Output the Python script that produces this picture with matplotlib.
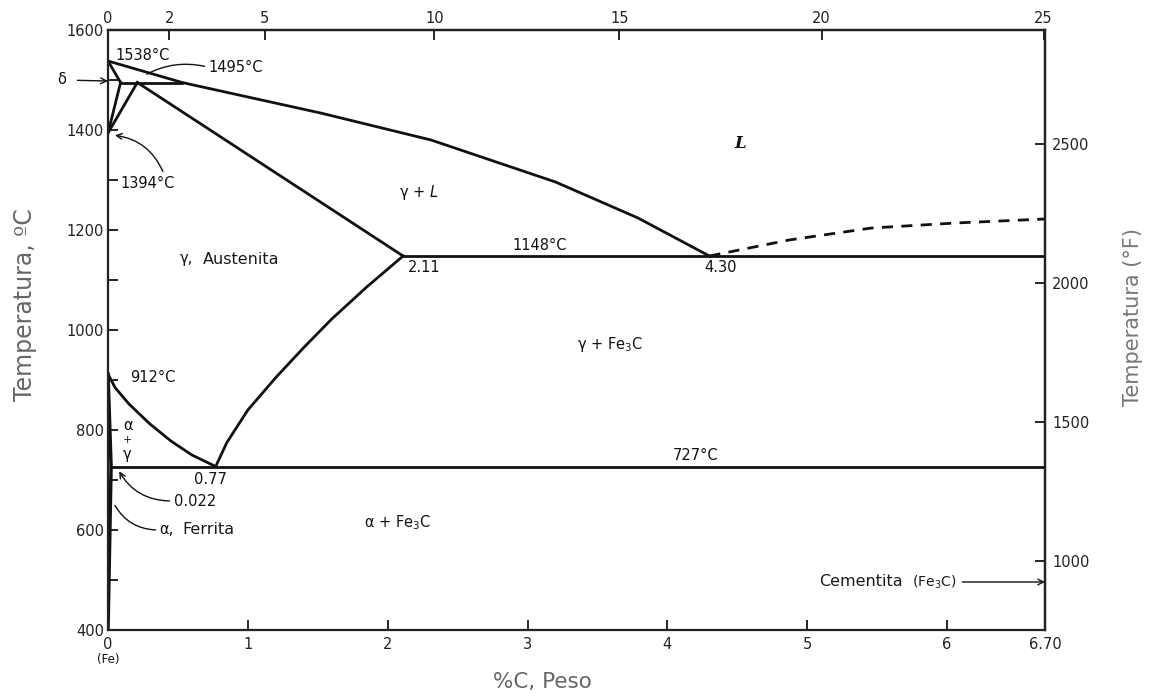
import numpy as np
import matplotlib
matplotlib.use("Agg")
import matplotlib.pyplot as plt

# Fe-Fe3C phase boundaries (wt% C, degrees C)
liq_w = [0, 0.53, 1.0, 1.52, 2.31, 3.20, 3.79, 4.30]
liq_T = [1538, 1495, 1466, 1434, 1380, 1296, 1224, 1148]

delta_sol_w = [0, 0.09]
delta_sol_T = [1538, 1495]

peri_w = [0.09, 0.53]
peri_T = [1495, 1495]

delta_solvus_w = [0.09, 0]
delta_solvus_T = [1495, 1394]

gam_delta_w = [0.21, 0]
gam_delta_T = [1495, 1394]

gam_sol_w = [0.21, 2.11]
gam_sol_T = [1495, 1148]

eut_w = [2.11, 6.70]
eut_T = [1148, 1148]

acm_w = [0.77, 0.85, 1.0, 1.2, 1.4, 1.6, 1.85, 2.11]
acm_T = [727, 775, 840, 905, 965, 1022, 1086, 1148]

a3_w = [0, 0.05, 0.15, 0.3, 0.45, 0.6, 0.77]
a3_T = [912, 885, 852, 812, 778, 750, 727]

alpha_w = [0, 0.022, 0]
alpha_T = [912, 727, 400]

eutd_w = [0.022, 6.70]
eutd_T = [727, 727]

graph_w = [4.30, 4.87, 5.46, 6.06, 6.70]
graph_T = [1148, 1180, 1204, 1214, 1222]

# axis ticks
wt_ticks = [0, 1, 2, 3, 4, 5, 6, 6.70]
wt_labels = ["0", "1", "2", "3", "4", "5", "6", "6.70"]
at_ticks = [0, 2, 5, 10, 15, 20, 25]
C_major = [400, 600, 800, 1000, 1200, 1400, 1600]
C_minor = [500, 700, 900, 1100, 1300, 1500]
F_ticks = [1000, 1500, 2000, 2500]

plt.rcParams['font.family'] = ['DejaVu Sans']

fig = plt.figure(figsize=(11.56, 7), dpi=100)
ax = fig.add_axes([108 / 1156, 70 / 700, 937 / 1156, 600 / 700])

lw = 2.0
k = '#111111'
ax.plot(liq_w, liq_T, color=k, lw=lw)
ax.plot(delta_sol_w, delta_sol_T, color=k, lw=lw)
ax.plot(peri_w, peri_T, color=k, lw=lw)
ax.plot(delta_solvus_w, delta_solvus_T, color=k, lw=lw)
ax.plot(gam_delta_w, gam_delta_T, color=k, lw=lw)
ax.plot(gam_sol_w, gam_sol_T, color=k, lw=lw)
ax.plot(eut_w, eut_T, color=k, lw=lw)
ax.plot(acm_w, acm_T, color=k, lw=lw)
ax.plot(a3_w, a3_T, color=k, lw=lw)
ax.plot(alpha_w, alpha_T, color=k, lw=lw + 0.5)
ax.plot(eutd_w, eutd_T, color=k, lw=lw)
ax.plot(graph_w, graph_T, color=k, lw=lw, ls=(0, (4, 3)))

ax.set_xlim(0, 6.70)
ax.set_ylim(400, 1600)
for s in ax.spines.values():
    s.set_linewidth(1.6)
    s.set_color('#222222')

tick_kw = dict(direction='in', labelsize=10.5, labelcolor='#222222', width=1.2, length=7)
ax.set_xticks(wt_ticks)
ax.set_xticklabels(wt_labels)
ax.set_yticks(C_major)
ax.set_yticks(C_minor, minor=True)
ax.tick_params(axis='both', which='both', **tick_kw)
ax.tick_params(axis='x', pad=5)
ax.tick_params(axis='y', pad=3)


def wt2at(w):
    w = np.asarray(w, dtype=float)
    c = w / 12.011
    fe = (100 - w) / 55.845
    return 100 * c / (c + fe)


def at2wt(a):
    a = np.asarray(a, dtype=float)
    c = a * 12.011
    fe = (100 - a) * 55.845
    return 100 * c / (c + fe)


def c2f(t):
    return np.asarray(t, dtype=float) * 9 / 5 + 32


def f2c(t):
    return (np.asarray(t, dtype=float) - 32) * 5 / 9


top = ax.secondary_xaxis('top', functions=(wt2at, at2wt))
top.set_xticks(at_ticks)
top.tick_params(**tick_kw, pad=3)
top.spines['top'].set_linewidth(1.6)

right = ax.secondary_yaxis('right', functions=(c2f, f2c))
right.set_yticks(F_ticks)
right.tick_params(**tick_kw, pad=5)
right.spines['right'].set_linewidth(1.6)

# axis titles
fig.text(1133 / 1156, 1 - 317 / 700, 'Temperatura (°F)', fontsize=15, color='#777777',
         rotation=90, ha='center', va='center')
fig.text(542 / 1156, 1 - 682 / 700, '%C, Peso', fontsize=15.5, color='#666666',
         ha='center', va='center')
fig.text(25 / 1156, 1 - 305 / 700, 'Temperatura, ºC', fontsize=17, color='#666666',
         rotation=90, ha='center', va='center')

fs = 10.5
tc = '#111111'
ax.text(0.05, 1550, '1538°C', fontsize=fs, color=tc, va='center')
ax.text(0.72, 1524, '1495°C', fontsize=fs, color=tc, va='center')
ax.annotate('', xy=(0.26, 1509), xytext=(0.71, 1526),
            arrowprops=dict(arrowstyle='-', color=tc, lw=1.0,
                            connectionstyle='arc3,rad=0.2'))
ax.annotate('δ', xy=(0, 1498), xytext=(-0.33, 1500), fontsize=fs, color=tc,
            va='center', ha='center', annotation_clip=False,
            arrowprops=dict(arrowstyle='->', color=tc, lw=1.0, shrinkA=6, shrinkB=0))
ax.text(0.09, 1292, '1394°C', fontsize=fs, color=tc, va='center')
ax.annotate('', xy=(0.03, 1390), xytext=(0.40, 1312),
            arrowprops=dict(arrowstyle='->', color=tc, lw=1.0,
                            connectionstyle='arc3,rad=0.3'))
ax.text(4.52, 1374, 'L', fontsize=12, color=tc, ha='center', va='center',
        style='italic', weight='bold', family='DejaVu Serif')
ax.text(2.22, 1276, 'γ + $L$', fontsize=fs, color=tc, ha='center', va='center')
ax.text(0.51, 1142, 'γ,', fontsize=fs, color=tc, va='center')
ax.text(0.68, 1142, 'Austenita', fontsize=11.5, color='#1a1a1a', va='center')
ax.text(3.09, 1168, '1148°C', fontsize=fs, color=tc, ha='center', va='center')
ax.text(2.26, 1124, '2.11', fontsize=fs, color=tc, ha='center', va='center')
ax.text(4.38, 1124, '4.30', fontsize=fs, color=tc, ha='center', va='center')
ax.text(3.59, 970, 'γ + Fe$_3$C', fontsize=fs, color=tc, ha='center', va='center')
ax.text(0.16, 906, '912°C', fontsize=fs, color=tc, va='center')
ax.text(0.14, 808, 'α', fontsize=fs, color=tc, ha='center', va='center')
ax.text(0.14, 780, '+', fontsize=8, color=tc, ha='center', va='center')
ax.text(0.14, 750, 'γ', fontsize=fs, color=tc, ha='center', va='center')
ax.text(4.20, 750, '727°C', fontsize=fs, color=tc, ha='center', va='center')
ax.text(0.73, 700, '0.77', fontsize=fs, color=tc, ha='center', va='center')
ax.text(0.47, 656, '0.022', fontsize=fs, color=tc, va='center')
ax.annotate('', xy=(0.07, 722), xytext=(0.46, 658),
            arrowprops=dict(arrowstyle='->', color=tc, lw=1.0,
                            connectionstyle='arc3,rad=-0.3'))
ax.text(0.37, 600, 'α,', fontsize=fs, color=tc, va='center')
ax.text(0.53, 600, 'Ferrita', fontsize=11.5, color='#1a1a1a', va='center')
ax.annotate('', xy=(0.04, 654), xytext=(0.36, 600),
            arrowprops=dict(arrowstyle='-', color=tc, lw=1.0,
                            connectionstyle='arc3,rad=-0.3'))
ax.text(2.07, 614, 'α + Fe$_3$C', fontsize=fs, color=tc, ha='center', va='center')
ax.text(0, 340, '(Fe)', fontsize=8.5, color=tc, ha='center', va='center', clip_on=False)
ax.text(5.68, 496, 'Cementita', fontsize=11.5, color='#1a1a1a', ha='right', va='center')
ax.text(5.75, 496, '(Fe$_3$C)', fontsize=10, color='#1a1a1a', ha='left', va='center')
ax.annotate('', xy=(6.70, 496), xytext=(6.11, 496),
            arrowprops=dict(arrowstyle='->', color=tc, lw=1.0, shrinkA=0, shrinkB=0))

fig.savefig('out.png', dpi=100)
